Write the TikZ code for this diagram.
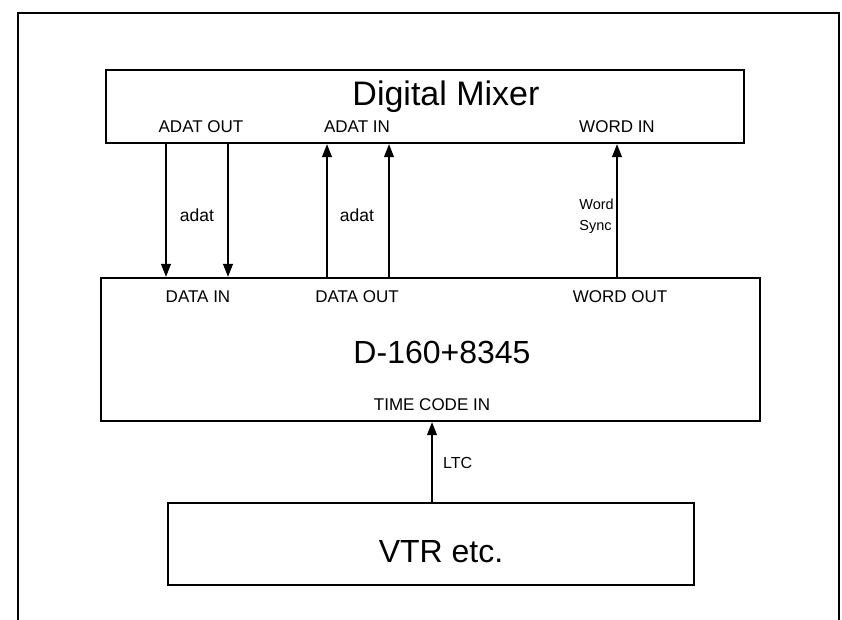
\documentclass[tikz,border=0pt]{standalone}
\usepackage{fontspec}
\setmainfont{Liberation Sans}
\usetikzlibrary{arrows.meta}
\begin{document}
\begin{tikzpicture}[x=1pt,y=-1pt,
  box/.style={draw,line width=2.4pt,inner sep=0pt},
  title/.style={inner sep=0pt,font=\fontsize{34}{38}\selectfont},
  port/.style={inner sep=0pt,font=\fontsize{17}{19}\selectfont},
  sig/.style={inner sep=0pt,font=\fontsize{16}{18}\selectfont},
  arr/.style={line width=1.1pt,-{Triangle[length=13pt,width=10pt]}},
  frame/.style={line width=1.3pt}]
\useasboundingbox (0,0) rectangle (842,620);
% outer frame
\draw[frame] (18,620) -- (18,13) -- (839,13) -- (839,620);
% boxes
\node[box,minimum width=638pt,minimum height=73pt] (mixer) at (425,106.5) {};
\node[box,minimum width=659pt,minimum height=143pt] (d160) at (430.5,349.5) {};
\node[box,minimum width=526pt,minimum height=82pt] (vtr) at (431,544) {};
% titles
\node[title] (tmix) at (446,97) {Digital Mixer};
\node[title,font=\fontsize{32}{36}\selectfont] (td) at (442,352) {D-160+8345};
\node[title,font=\fontsize{32}{36}\selectfont] (tv) at (441,552) {VTR etc.};
% port labels
\node[port] (pao) at (201,127) {ADAT OUT};
\node[port] (pai) at (357,127) {ADAT IN};
\node[port] (pwi) at (617,127) {WORD IN};
\node[port] (pdi) at (198,297) {DATA IN};
\node[port] (pdo) at (357,297) {DATA OUT};
\node[port] (pwo) at (620,297) {WORD OUT};
\node[port] (ptc) at (432,405) {TIME CODE IN};
% connector x positions
\coordinate (x1) at (166,0);
\coordinate (x2) at (228,0);
\coordinate (x3) at (327,0);
\coordinate (x4) at (389,0);
\coordinate (x5) at (617,0);
\coordinate (x6) at (432,0);
% connectors
\draw[arr] (mixer.south -| x1) -- (d160.north -| x1);
\draw[arr] (mixer.south -| x2) -- (d160.north -| x2);
\draw[arr] (d160.north -| x3) -- (mixer.south -| x3);
\draw[arr] (d160.north -| x4) -- (mixer.south -| x4);
\draw[arr] (d160.north -| x5) -- (mixer.south -| x5);
\draw[arr] (vtr.north -| x6) -- (d160.south -| x6);
% signal labels
\node[sig,font=\fontsize{17.5}{19}\selectfont] (l1) at (197,215) {adat};
\node[sig,font=\fontsize{14.5}{21}\selectfont,align=left,anchor=east] (l3) at (614,216) {Word\\Sync};
\node[sig,font=\fontsize{17.5}{19}\selectfont] (l2) at (357,215) {adat};
\node[sig,anchor=west] (l4) at (443,463) {LTC};
\end{tikzpicture}
\end{document}
